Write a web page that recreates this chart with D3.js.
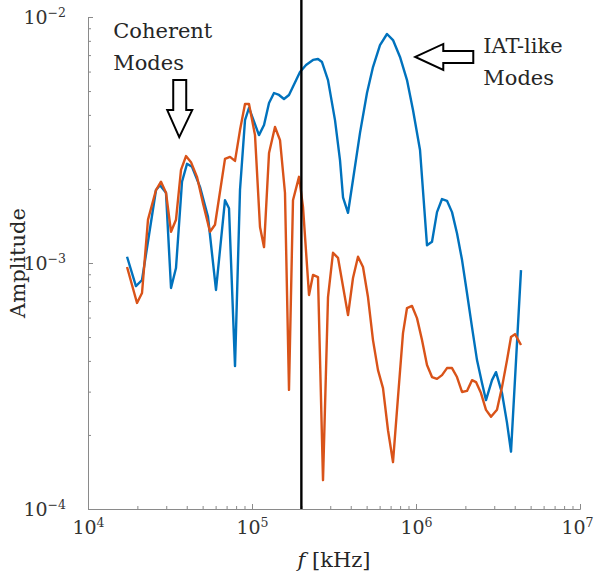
<!DOCTYPE html>
<html>
<head>
<meta charset="utf-8">
<script src="https://cdn.jsdelivr.net/npm/d3@7"></script>
<style>
  body { margin: 0; background: #fff; }
  text { font-family: "DejaVu Serif", serif; fill: #262626; }
</style>
</head>
<body>
<svg id="chart" width="595" height="576"></svg>
<script>
// [frequency (kHz), amplitude]
var blueSeries = [
  [1.73e4, 1.06e-3], [1.96e4, 8.06e-4], [2.135e4, 8.53e-4], [2.355e4, 1.30e-3],
  [2.598e4, 1.98e-3], [2.748e4, 2.07e-3], [2.989e4, 1.93e-3], [3.208e4, 7.91e-4],
  [3.44e4, 9.54e-4], [3.743e4, 2.14e-3], [4.015e4, 2.53e-3], [4.306e4, 2.46e-3],
  [4.818e4, 2.04e-3], [5.392e4, 1.54e-3], [6.032e4, 7.77e-4], [6.845e4, 1.80e-3],
  [7.24e4, 1.67e-3], [7.878e4, 3.81e-4], [8.45e4, 1.98e-3], [9.065e4, 3.81e-3],
  [9.587e4, 4.27e-3], [1.103e5, 3.31e-3], [1.184e5, 3.64e-3], [1.27e5, 4.47e-3],
  [1.362e5, 4.91e-3], [1.461e5, 4.82e-3], [1.567e5, 4.64e-3], [1.681e5, 4.82e-3],
  [1.962e5, 5.98e-3], [2.135e5, 6.38e-3], [2.355e5, 6.69e-3], [2.526e5, 6.75e-3],
  [2.672e5, 6.56e-3], [2.907e5, 5.54e-3], [3.207e5, 3.81e-3], [3.44e5, 2.62e-3],
  [3.589e5, 1.85e-3], [3.85e5, 1.60e-3], [4.129e5, 2.18e-3], [4.556e5, 3.38e-3],
  [5.025e5, 4.91e-3], [5.467e5, 6.26e-3], [6.032e5, 7.69e-3], [6.656e5, 8.53e-3],
  [7.24e5, 8.06e-3], [7.988e5, 6.88e-3], [8.813e5, 5.54e-3], [9.587e5, 4.19e-3],
  [1.058e6, 2.88e-3], [1.167e6, 1.18e-3], [1.252e6, 1.22e-3], [1.343e6, 1.61e-3],
  [1.441e6, 1.82e-3], [1.545e6, 1.79e-3], [1.658e6, 1.61e-3], [1.778e6, 1.32e-3],
  [1.908e6, 1.03e-3], [2.046e6, 7.55e-4], [2.195e6, 5.49e-4], [2.355e6, 4.03e-4],
  [2.526e6, 3.25e-4], [2.672e6, 2.77e-4], [2.907e6, 3.34e-4], [3.075e6, 3.60e-4],
  [3.345e6, 2.96e-4], [3.589e6, 2.24e-4], [3.796e6, 1.71e-4], [4.368e6, 9.36e-4]
];

var orangeSeries = [
  [1.73e4, 9.63e-4], [1.99e4, 6.88e-4], [2.135e4, 7.55e-4], [2.322e4, 1.50e-3],
  [2.598e4, 1.98e-3], [2.787e4, 2.14e-3], [2.989e4, 1.93e-3], [3.208e4, 1.34e-3],
  [3.44e4, 1.50e-3], [3.691e4, 2.39e-3], [3.959e4, 2.72e-3], [4.246e4, 2.57e-3],
  [4.619e4, 2.24e-3], [5.025e4, 1.75e-3], [5.545e4, 1.34e-3], [5.948e4, 1.43e-3],
  [6.845e4, 2.65e-3], [7.343e4, 2.70e-3], [7.878e4, 2.60e-3], [8.45e4, 3.47e-3],
  [9.065e4, 4.43e-3], [9.587e4, 4.43e-3], [1.043e5, 3.31e-3], [1.119e5, 1.40e-3],
  [1.184e5, 1.16e-3], [1.27e5, 2.80e-3], [1.381e5, 3.57e-3], [1.482e5, 3.16e-3],
  [1.589e5, 1.93e-3], [1.681e5, 3.05e-4], [1.778e5, 1.80e-3], [1.935e5, 2.24e-3],
  [2.046e5, 1.69e-3], [2.227e5, 7.41e-4], [2.355e5, 8.94e-4], [2.526e5, 8.77e-4],
  [2.71e5, 1.31e-4], [2.907e5, 7.27e-4], [3.118e5, 1.10e-3], [3.345e5, 1.05e-3],
  [3.85e5, 6.14e-4], [4.129e5, 8.69e-4], [4.43e5, 1.06e-3], [4.752e5, 9.63e-4],
  [5.096e5, 7.27e-4], [5.467e5, 4.86e-4], [5.865e5, 3.67e-4], [6.292e5, 3.10e-4],
  [6.75e5, 2.09e-4], [7.24e5, 1.55e-4], [7.767e5, 2.85e-4], [8.332e5, 5.19e-4],
  [8.813e5, 6.56e-4], [9.454e5, 6.69e-4], [1.014e6, 5.97e-4], [1.088e6, 4.86e-4],
  [1.167e6, 3.85e-4], [1.252e6, 3.44e-4], [1.343e6, 3.38e-4], [1.441e6, 3.50e-4],
  [1.545e6, 3.74e-4], [1.658e6, 3.74e-4], [1.778e6, 3.44e-4], [1.908e6, 2.99e-4],
  [2.046e6, 3.02e-4], [2.195e6, 3.34e-4], [2.322e6, 3.28e-4], [2.49e6, 2.96e-4],
  [2.672e6, 2.53e-4], [2.867e6, 2.37e-4], [3.118e6, 2.53e-4], [3.345e6, 3.13e-4],
  [3.589e6, 4.03e-4], [3.796e6, 5.00e-4], [4.015e6, 5.14e-4], [4.368e6, 4.64e-4]
];

var xTicks = [1e4, 1e5, 1e6, 1e7];
var yTicks = [1e-4, 1e-3, 1e-2];
var cutoffFreq = 2e5;

var margin = { top: 17, right: 15, bottom: 67, left: 88 },
  width = 595 - margin.left - margin.right,
  height = 576 - margin.top - margin.bottom;

var svg = d3.select('#chart');
var g = svg.append('g')
  .attr('transform', 'translate(' + margin.left + ',' + margin.top + ')');

var x = d3.scaleLog().domain([1e4, 1e7]).range([0, width]);
var y = d3.scaleLog().domain([1e-4, 1e-2]).range([height, 0]);

// minor ticks 2..9 in every decade
function minors(lo, hi) {
  var out = [];
  for (var p = lo; p < hi; p++) {
    for (var k = 2; k <= 9; k++) out.push(k * Math.pow(10, p));
  }
  return out;
}

function powLabel(sel) {
  sel.each(function(d) {
    var e = Math.round(Math.log10(d));
    var t = d3.select(this).text(null);
    t.append('tspan').text('10');
    t.append('tspan')
      .attr('dy', '-0.6em')
      .attr('font-size', '12.5px')
      .text(e < 0 ? '\u2212' + (-e) : e);
  });
}

var axisColor = '#8a8a8a';

// x axis
var xAxis = g.append('g').attr('transform', 'translate(0,' + height + ')');
xAxis.append('g')
  .call(d3.axisBottom(x).tickValues(minors(4, 7)).tickSizeInner(-3).tickSizeOuter(0).tickFormat(''));
xAxis.append('g')
  .call(d3.axisBottom(x).tickValues(xTicks).tickSizeInner(-5).tickSizeOuter(0).tickPadding(12))
  .selectAll('.tick text')
  .attr('font-size', '19px')
  .call(powLabel)
  .attr('dx', function(d) { return d === 1e7 ? -3 : 0; });

// y axis
var yAxis = g.append('g');
yAxis.append('g')
  .call(d3.axisLeft(y).tickValues(minors(-4, -2)).tickSizeInner(-3).tickSizeOuter(0).tickFormat(''));
yAxis.append('g')
  .call(d3.axisLeft(y).tickValues(yTicks).tickSizeInner(-5).tickSizeOuter(0).tickPadding(22))
  .selectAll('.tick text')
  .attr('font-size', '19px')
  .attr('dy', '0.35em')
  .call(powLabel);

g.selectAll('.domain, .tick line').attr('stroke', axisColor);
g.selectAll('.tick text').style('fill', '#333');

// series
var line = d3.line()
  .x(function(d) { return x(d[0]); })
  .y(function(d) { return y(d[1]); });

g.append('path')
  .datum(blueSeries)
  .attr('fill', 'none')
  .attr('stroke', '#0072BD')
  .attr('stroke-width', 2.4)
  .attr('stroke-linejoin', 'round')
  .attr('d', line);

g.append('path')
  .datum(orangeSeries)
  .attr('fill', 'none')
  .attr('stroke', '#D95319')
  .attr('stroke-width', 2.4)
  .attr('stroke-linejoin', 'round')
  .attr('d', line);

// cutoff line, runs up past the top of the axes
g.append('line')
  .attr('x1', x(cutoffFreq)).attr('x2', x(cutoffFreq))
  .attr('y1', y(1e-4)).attr('y2', -margin.top)
  .attr('stroke', '#000')
  .attr('stroke-width', 2.4);

// axis labels
svg.append('text')
  .attr('transform', 'translate(25,' + (margin.top + height / 2) + ') rotate(-90)')
  .attr('text-anchor', 'middle')
  .attr('font-size', '21px')
  .text('Amplitude');

var xl = svg.append('text')
  .attr('x', margin.left + width / 2)
  .attr('y', 567)
  .attr('text-anchor', 'middle')
  .attr('font-size', '21px');
xl.append('tspan').attr('font-style', 'italic').text('f');
xl.append('tspan').text(' [kHz]');

// annotations
function note(px, py, lines) {
  var t = g.append('text').attr('font-size', '21px');
  lines.forEach(function(s, i) {
    t.append('tspan').attr('x', px).attr('y', py + i * 32).text(s);
  });
}

var coh = [x(3.6e4), y(3.25e-3)];
g.append('path')
  .attr('d', 'M' + coh[0] + ',' + coh[1] +
    'l-12,-27 l6,0 l0,-30 l13,0 l0,30 l6,0 z')
  .attr('fill', '#fff')
  .attr('stroke', '#000')
  .attr('stroke-width', 2);
note(coh[0] - 66, 21, ['Coherent', 'Modes']);

var iat = [x(9.9e5), y(6.88e-3)];
g.append('path')
  .attr('d', 'M' + iat[0] + ',' + iat[1] +
    'l28,-13 l0,7 l30,0 l0,12 l-30,0 l0,7 z')
  .attr('fill', '#fff')
  .attr('stroke', '#000')
  .attr('stroke-width', 2);
note(iat[0] + 68, 36, ['IAT-like', 'Modes']);
</script>
</body>
</html>
